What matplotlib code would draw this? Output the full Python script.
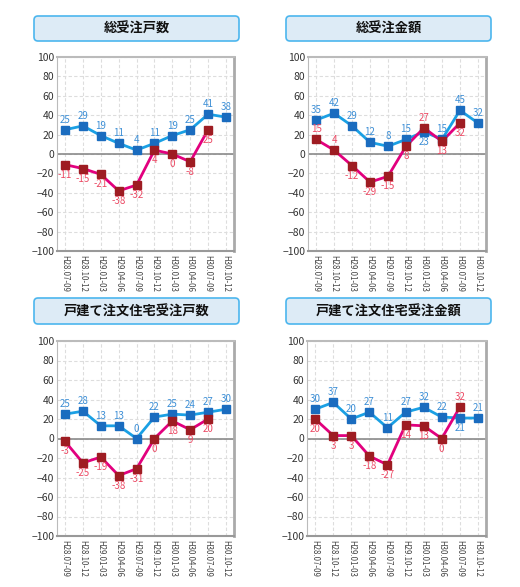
import numpy as np
import matplotlib
matplotlib.use("Agg")
import matplotlib.pyplot as plt
from matplotlib.patches import FancyBboxPatch

plt.rcParams['font.family'] = ['Noto Sans CJK JP', 'DejaVu Sans']

# 期間ラベル
periods = ['H28.07-09', 'H28.10-12', 'H29.01-03', 'H29.04-06', 'H29.07-09',
           'H29.10-12', 'H30.01-03', 'H30.04-06', 'H30.07-09', 'H30.10-12']

# 各グラフのタイトル
titles = ['総受注戸数', '総受注金額', '戸建て注文住宅受注戸数', '戸建て注文住宅受注金額']

# 青系列 (10期)
ko_blue = [25, 29, 19, 11, 4, 11, 19, 25, 41, 38]
ki_blue = [35, 42, 29, 12, 8, 15, 23, 15, 45, 32]
tk_blue = [25, 28, 13, 13, 0, 22, 25, 24, 27, 30]
tg_blue = [30, 37, 20, 27, 11, 27, 32, 22, 21, 21]

# 赤系列 (9期)
ko_red = [-11, -15, -21, -38, -32, 4, 0, -8, 25]
ki_red = [15, 4, -12, -29, -23, 8, 27, 13, 32]
tk_red = [-3, -25, -19, -38, -31, 0, 18, 9, 20]
tg_red = [20, 3, 3, -18, -27, 14, 13, 0, 32]

# 図中の表示値が点の位置と違うところ
label_fix = {(1, 'red', 4): '-15'}

# ラベルを反対側に置く点
flip = {(1, 'red', 0), (1, 'red', 1), (1, 'red', 6), (1, 'blue', 6),
        (3, 'blue', 8), (3, 'red', 8)}

blues = [ko_blue, ki_blue, tk_blue, tg_blue]
reds = [ko_red, ki_red, tk_red, tg_red]

W, H = 520, 587
fig = plt.figure(figsize=(W / 100, H / 100), dpi=100)

# 位置 (ピクセル): 軸 left, right, top, bottom / タイトル枠 left, right, top, bottom
ax_px = [(57, 234, 57, 251), (308, 486, 57, 251),
         (57, 234, 341, 536), (307, 486, 341, 536)]
title_px = [(34, 239, 16, 41), (286, 491, 16, 41),
            (34, 239, 298, 324), (286, 491, 298, 324)]

LINE_B = '#1aa0e4'
MARK_B = '#1a6cbf'
TXT_B = '#3d8fd6'
LINE_R = '#e2007e'
MARK_R = '#9e1c22'
TXT_R = '#ec4a64'

# タイトル枠用のオーバーレイ
bg = fig.add_axes([0, 0, 1, 1])
bg.set_xlim(0, W)
bg.set_ylim(H, 0)
bg.axis('off')
for i, (l, r, t, b) in enumerate(title_px):
    box = FancyBboxPatch((l + 4, t + 4), r - l - 8, b - t - 8,
                         boxstyle='round,pad=4', fc='#ddebf6', ec='#4cb6ee', lw=1.2)
    bg.add_patch(box)
    bg.text((l + r) / 2, (t + b) / 2 + 0.5, titles[i], ha='center', va='center',
            fontsize=9.5, fontweight='bold', color='#111111')

x = np.arange(len(periods))

for i, (l, r, t, b) in enumerate(ax_px):
    ax = fig.add_axes([l / W, (H - b) / H, (r - l) / W, (b - t) / H])
    ax.set_xlim(-0.45, len(periods) - 0.55)
    ax.set_ylim(-100, 100)
    ax.set_yticks(np.arange(-100, 101, 20))
    ax.set_xticks(x)
    ax.set_xticklabels(periods, rotation=-90, fontsize=5.7, color='#444444')
    ax.tick_params(axis='y', length=0, labelsize=7.5, labelcolor='#333333', pad=2)
    ax.tick_params(axis='x', length=0, pad=3)
    ax.grid(True, color='#dddddd', linestyle=(0, (3, 2)), linewidth=0.8)
    ax.set_axisbelow(True)
    ax.axhline(0, color='#8a8a8a', lw=1.2, zorder=1)
    ax.spines['left'].set_color('#bbbbbb')
    ax.spines['top'].set_color('#bbbbbb')
    ax.spines['top'].set_linewidth(1.5)
    ax.spines['right'].set_color('#aaaaaa')
    ax.spines['right'].set_linewidth(2)
    ax.spines['bottom'].set_color('#999999')
    ax.spines['bottom'].set_linewidth(1.5)

    for key, vals, lc, mc, tc, up in [('blue', blues[i], LINE_B, MARK_B, TXT_B, True),
                                     ('red', reds[i], LINE_R, MARK_R, TXT_R, False)]:
        xs = x[:len(vals)]
        ax.plot(xs, vals, color=lc, lw=2, zorder=3)
        ax.plot(xs, vals, 's', color=mc, ms=6, zorder=4)
        for j, v in enumerate(vals):
            above = up != ((i, key, j) in flip)
            txt = label_fix.get((i, key, j), str(v))
            ax.annotate(txt, (xs[j], v), xytext=(0, 5 if above else -5),
                        textcoords='offset pixels', ha='center',
                        va='bottom' if above else 'top', fontsize=7, color=tc, zorder=5)

fig.savefig('out.png', dpi=100)
